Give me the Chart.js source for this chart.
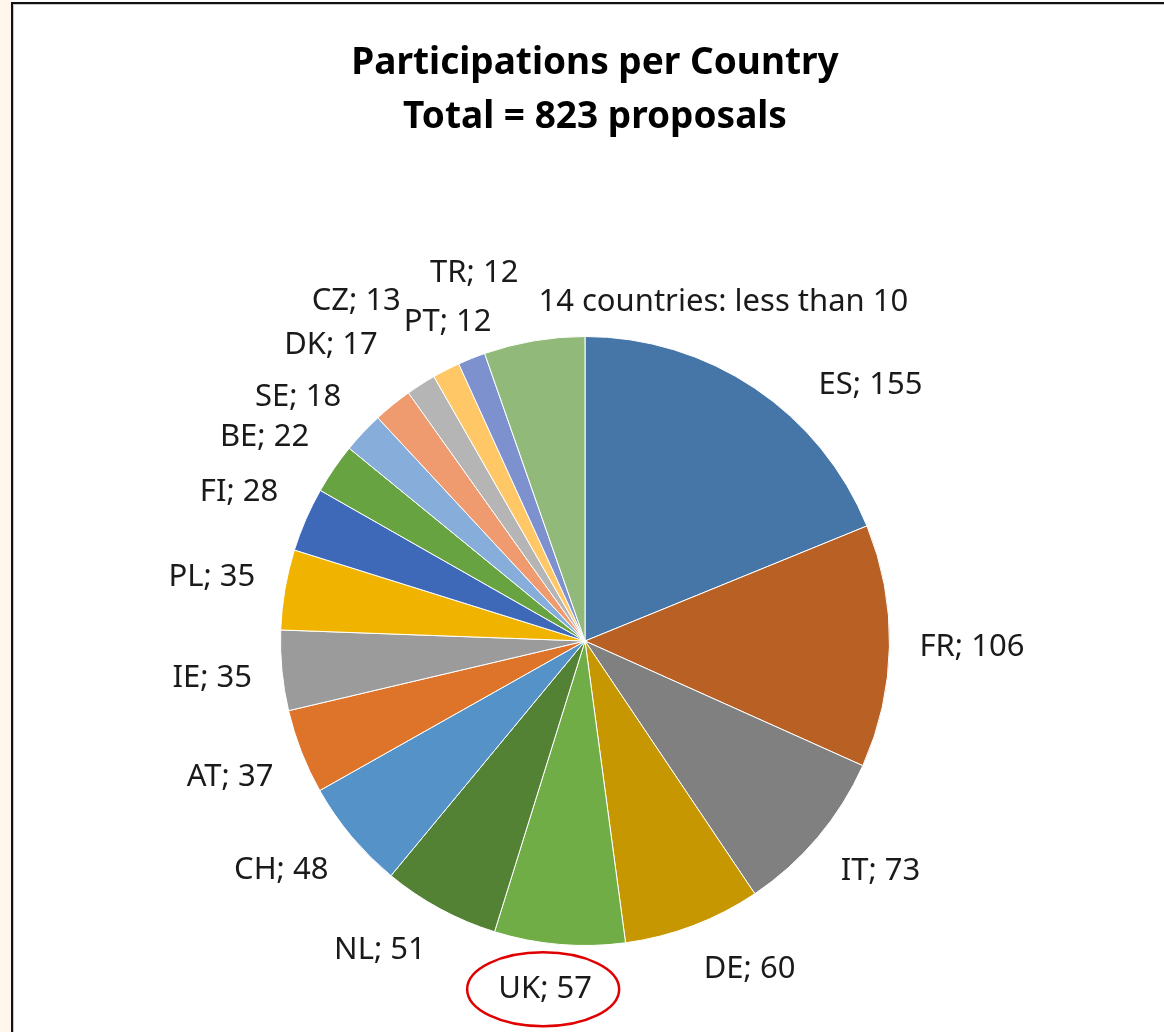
<!DOCTYPE html>
<html>
<head>
<meta charset="utf-8">
<script src="https://cdn.jsdelivr.net/npm/chart.js@4.4.1/dist/chart.umd.min.js"></script>
<style>
  html, body { margin: 0; padding: 0; overflow: hidden; background: #fff; }
  body { width: 1164px; height: 1032px; position: relative; }
  #strip { position: absolute; left: 0; top: 0; width: 11px; height: 1032px; background: #fff7ee; }
  #frame { position: absolute; left: 11px; top: 2px; width: 1160px; height: 1040px;
           border: 2px solid #111; background: #fff; box-shadow: inset 1px 1px 0 #c8c8c8; }
  #frame canvas { display: block; }
</style>
</head>
<body>
<div id="strip"></div>
<div id="frame"><canvas id="pieChart" width="1160" height="1040"></canvas></div>
<script>
// Participations per country (clockwise from the top)
var countries = ['ES', 'FR', 'IT', 'DE', 'UK', 'NL', 'CH', 'AT', 'IE', 'PL',
                 'FI', 'BE', 'SE', 'DK', 'CZ', 'PT', 'TR', '14 countries: less than 10'];
var participations = [155, 106, 73, 60, 57, 51, 48, 37, 35, 35, 28, 22, 18, 17, 13, 12, 12, 44];
var titleLines = ['Participations per Country', 'Total = 823 proposals'];
var circledLabel = 'UK';

var sliceColors = ['#4676a7', '#b96124', '#808080', '#c69700', '#71ad47', '#548235',
                   '#5592c8', '#de742a', '#9b9b9b', '#f0b400', '#3e69b8', '#68a342',
                   '#87aedb', '#ef9a6f', '#b5b5b5', '#ffc766', '#7d91cf', '#91ba7a'];

// Excel "best fit" moved a few labels away from the crowded top of the pie
var nudgeX = [47, 0, 0, 0, 0, 0, 0, 0, 0, 0, 0, 0, 0, 4, -4, 59, 58, 287];
var nudgeY = [37, 0, 0, 0, 0, 0, 0, 0, 0, 0, 0, 0, 0, -21, -43, -6, -42, 6];

var labelFont = '31px "Noto Sans", "Open Sans", sans-serif';

/**
 * Draws the two title lines above the pie.
 */
var titlePlugin = {
    id: 'titleLines',
    afterDraw: function(chart) {
        var ctx = chart.ctx;
        var cx = chart.getDatasetMeta(0).data[0].x + 10;
        ctx.save();
        ctx.font = 'bold 37px "Noto Sans", "Open Sans", sans-serif';
        ctx.fillStyle = '#000';
        ctx.textAlign = 'center';
        ctx.textBaseline = 'middle';
        titleLines.forEach(function(line, i) {
            ctx.fillText(line, cx, 59 + i * 54);
        });
        ctx.restore();
    }
};

/**
 * Outside-end labels "XX; value", placed from each arc's mid angle.
 */
var labelPlugin = {
    id: 'outsideLabels',
    afterDatasetsDraw: function(chart) {
        var ctx = chart.ctx;
        var arcs = chart.getDatasetMeta(0).data;
        ctx.save();
        ctx.font = labelFont;
        ctx.fillStyle = '#1a1a1a';
        ctx.textAlign = 'center';
        ctx.textBaseline = 'middle';
        arcs.forEach(function(arc, i) {
            var p = arc.getProps(['x', 'y', 'startAngle', 'endAngle', 'outerRadius'], true);
            var mid = (p.startAngle + p.endAngle) / 2;
            var dx = Math.cos(mid), dy = Math.sin(mid);
            var dist = p.outerRadius + 30;
            var text = i === countries.length - 1 ? countries[i] : countries[i] + '; ' + participations[i];
            var w = ctx.measureText(text).width, h = 30;
            var kx = Math.max(-1, Math.min(1, dx * 3));
            var ky = Math.max(-1, Math.min(1, dy * 3));
            var tx = p.x + dx * dist + kx * w / 2 + nudgeX[i];
            var ty = p.y + dy * dist + ky * h / 2 + nudgeY[i];
            ctx.fillText(text, tx, ty);
            if (countries[i] === circledLabel) {
                ctx.beginPath();
                ctx.strokeStyle = '#e00000';
                ctx.lineWidth = 2.5;
                ctx.ellipse(tx - 2, ty, 76, 37, 0, 0, Math.PI * 2);
                ctx.stroke();
            }
        });
        ctx.restore();
    }
};

var ctx = document.getElementById('pieChart').getContext('2d');
var pieChart = new Chart(ctx, {
    type: 'pie',
    data: {
        labels: countries,
        datasets: [{
            data: participations,
            backgroundColor: sliceColors,
            borderColor: '#ffffff',
            borderWidth: 1
        }]
    },
    options: {
        responsive: false,
        animation: false,
        layout: { padding: { left: 267, right: 283, top: 332, bottom: 98 } },
        plugins: {
            legend: { display: false },
            tooltip: { enabled: false }
        }
    },
    plugins: [titlePlugin, labelPlugin]
});
</script>
</body>
</html>
